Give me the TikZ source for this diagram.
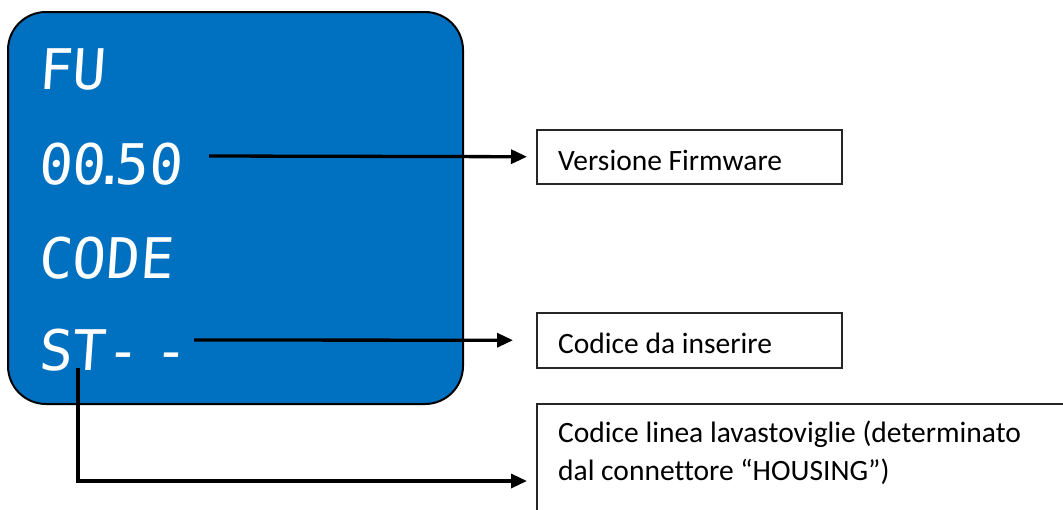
\documentclass[tikz,border=0pt]{standalone}
\usepackage{fontspec}
\setmainfont{Carlito}[Ligatures=NoCommon]
\newfontfamily\lcdfont[FakeSlant=0.07]{DejaVu Sans Mono}
\usetikzlibrary{arrows.meta}
\definecolor{lcdblue}{RGB}{0,112,192}
\begin{document}
\begin{tikzpicture}[x=1pt,y=-1pt,
  lcd/.style={text=white, font=\lcdfont\fontsize{56}{56}\selectfont, anchor=base west, inner sep=0pt},
  lbl/.style={font=\fontsize{29.5}{38}\selectfont, anchor=base west, inner sep=0pt, text=black},
  box/.style={draw=black!85, line width=1.5pt, inner sep=0pt, anchor=north west},
  conn/.style={line width=3.3pt, line join=miter, -{Triangle[length=16pt,width=14pt]}}]
\useasboundingbox (0,0) rectangle (1063,509);
% LCD panel
\node[draw=black, line width=2pt, fill=lcdblue, rounded corners=38pt,
      minimum width=455pt, minimum height=392pt, anchor=north west, inner sep=0pt] (panel) at (7,11) {};
\node[lcd] (fu) at (38,89) {FU};
\node[lcd] (ver) at (38,184) {00\kern-13pt.\kern-12pt50};
\node[lcd] (code) at (38,278) {CODE};
\node[lcd] (st) at (38,370) {ST- \kern-20pt-};
% boxes
\node[box, minimum width=305pt, minimum height=54pt] (b1) at (536,129) {};
\node[box, minimum width=305pt, minimum height=55pt] (b2) at (536,312) {};
\node[box, minimum width=560pt, minimum height=140pt] (b3) at (536,403) {};
\node[lbl] (t1) at (558,170) {Versione Firmware};
\node[lbl] (t2) at (558,353) {Codice da inserire};
\node[lbl] (t3a) at (558,442) {Codice linea lavastoviglie (determinato};
\node[lbl] (t3b) at (558,480) {dal connettore “HOUSING”)};
% connectors
\coordinate (s1) at (209,156);
\coordinate (s2) at (194,340);
\coordinate (s3) at (78,368);
\coordinate (k3) at (78,481);
\draw[conn, shorten >=9pt] (s1) -- (b1.west);
\draw[conn, shorten >=23pt] (s2) -- (b2.west);
\draw[conn, shorten >=9pt] (s3) -- (k3) -- (k3 -| b3.west);
\end{tikzpicture}
\end{document}
